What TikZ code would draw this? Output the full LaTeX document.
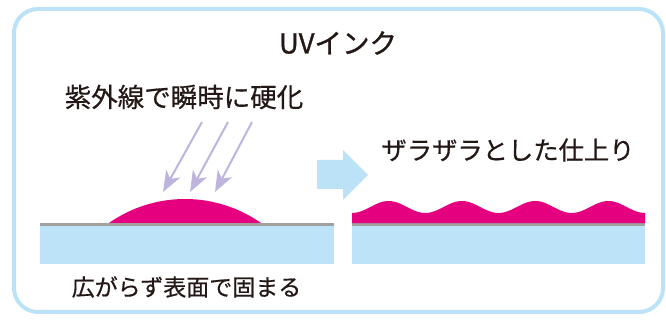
\documentclass[tikz,border=0pt]{standalone}
\usepackage{fontspec}
\setmainfont{Noto Sans CJK JP}[FakeBold=0.6]
\newfontfamily\jptitle{Noto Sans CJK JP}[FakeBold=1.0]
\usetikzlibrary{arrows.meta}
\definecolor{frameblue}{RGB}{188,226,247}
\definecolor{subblue}{RGB}{188,227,248}
\definecolor{inkmag}{RGB}{228,0,127}
\definecolor{linegray}{RGB}{160,160,160}
\definecolor{uvlav}{RGB}{190,180,222}
\definecolor{txt}{RGB}{35,24,21}
\tikzset{
  lbl/.style={inner sep=0pt, text=txt, anchor=center},
  uvray/.style={draw=uvlav, line width=2pt, -{Stealth[length=21pt,width=16pt,inset=6pt]}},
  substrate/.style={fill=subblue, draw=none},
  grayline/.style={fill=linegray, draw=none},
}
\begin{document}
\begin{tikzpicture}[x=1pt,y=1pt]
\useasboundingbox (0,0) rectangle (666,320);
% frame
\draw[frameblue, line width=4pt, rounded corners=24pt] (14,8) rectangle (663,311);
% title
\node[lbl, font=\jptitle\fontsize{27.5}{30}\selectfont] (title) at (338,277) {UVインク};
% labels
\node[lbl, font=\fontsize{26.5}{30}\selectfont] (uvtext) at (184,223) {紫外線で瞬時に硬化};
\node[lbl, font=\fontsize{23}{28}\selectfont] (lefttext) at (186.5,33) {広がらず表面で固まる};
\node[lbl, font=\fontsize{25.3}{30}\selectfont] (righttext) at (508,170) {ザラザラとした仕上り};
% left substrate
\fill[substrate] (40,56) rectangle (334,94.5);
\fill[grayline] (40,94) rectangle (334,97);
% dome
\fill[inkmag] (109,97) arc[start angle=125.06, end angle=54.94, radius=132.3] -- cycle;
% UV rays
\coordinate (r1s) at (202,198); \coordinate (r1e) at (163,128);
\coordinate (r2s) at (228,198); \coordinate (r2e) at (190,128);
\coordinate (r3s) at (252,198); \coordinate (r3e) at (215,128);
\draw[uvray] (r1s) -- (r1e);
\draw[uvray] (r2s) -- (r2e);
\draw[uvray] (r3s) -- (r3e);
% block arrow
\fill[frameblue] (317,131) -- (343,131) -- (343,120) -- (368,145) -- (343,170) -- (343,160) -- (317,160) -- cycle;
% right substrate
\fill[substrate] (352,56) rectangle (645,94);
\fill[grayline] (352,93.5) rectangle (645,97);
% wavy ink
\fill[inkmag] plot[domain=352:645, samples=150] (\x, {113-6*cos(4.91468*(\x-352))}) -- (645,96.8) -- (352,96.8) -- cycle;
\end{tikzpicture}
\end{document}
